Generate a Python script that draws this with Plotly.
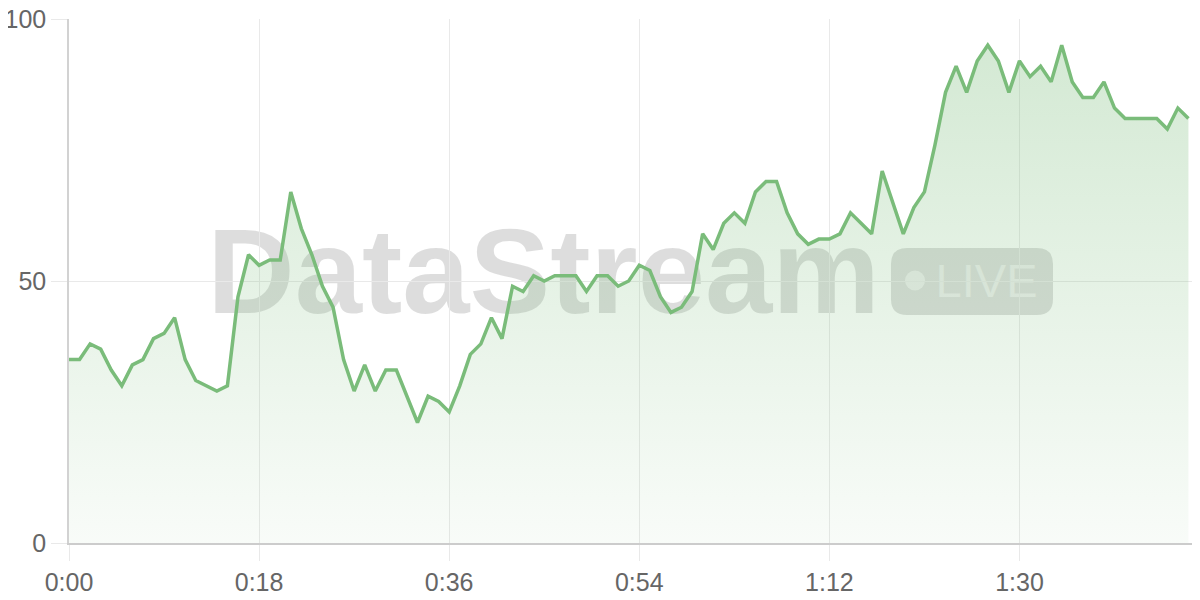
import plotly.graph_objects as go

# --- data -------------------------------------------------------------
seconds = list(range(107))
values = [35, 35, 38, 37, 33, 30, 34, 35, 39, 40,
          43, 35, 31, 30, 29, 30, 47, 55, 53, 54,
          54, 67, 60, 55, 49, 45, 35, 29, 34, 29,
          33, 33, 28, 23, 28, 27, 25, 30, 36, 38,
          43, 39, 49, 48, 51, 50, 51, 51, 51, 48,
          51, 51, 49, 50, 53, 52, 47, 44, 45, 48,
          59, 56, 61, 63, 61, 67, 69, 69, 63, 59,
          57, 58, 58, 59, 63, 61, 59, 71, 65, 59,
          64, 67, 76, 86, 91, 86, 92, 95, 92, 86,
          92, 89, 91, 88, 95, 88, 85, 85, 88, 83,
          81, 81, 81, 81, 79, 83, 81]
x_tickvals = [0, 18, 36, 54, 72, 90]
x_ticktext = ["0:00", "0:18", "0:36", "0:54", "1:12", "1:30"]
y_tickvals = [0, 50, 100]
y_ticktext = ["0", "50", "100"]

LINE = "rgb(122,188,122)"
GRID = "#e9e9e9"
FONT = "Liberation Sans"

fig = go.Figure()
fig.add_trace(go.Scatter(
    x=seconds, y=values, mode="lines",
    line=dict(color=LINE, width=3.5),
    fill="tozeroy",
    fillgradient=dict(type="vertical", start=0, stop=100,
                      colorscale=[[0, "rgba(122,188,122,0.05)"],
                                  [1, "rgba(122,188,122,0.34)"]]),
    hoverinfo="skip", showlegend=False,
))

PW, PH = 1130, 524  # plot area in px
wm = "rgba(0,0,0,0.135)"
# watermark text (drawn between grid and trace)
fig.add_shape(type="rect", xref="paper", yref="paper",
              x0=0.10, x1=0.74, y0=0.441, y1=0.641,
              fillcolor="rgba(0,0,0,0)", line=dict(width=0), layer="between",
              label=dict(text="DataStream", textposition="middle center",
                         font=dict(family="Liberation Sans", size=121, color=wm, weight="bold")))
# LIVE pill (rounded rectangle)
x0, x1, y0, y1 = 0.7274, 0.8708, 0.435, 0.563
rx, ry = 16 / PW, 16 / PH
path = (f"M {x0+rx},{y0} L {x1-rx},{y0} Q {x1},{y0} {x1},{y0+ry} "
        f"L {x1},{y1-ry} Q {x1},{y1} {x1-rx},{y1} L {x0+rx},{y1} "
        f"Q {x0},{y1} {x0},{y1-ry} L {x0},{y0+ry} Q {x0},{y0} {x0+rx},{y0} Z")
fig.add_shape(type="path", xref="paper", yref="paper", path=path,
              fillcolor=wm, line=dict(width=0), layer="between")
cx, cy = 0.7487, 0.501
fig.add_shape(type="circle", xref="paper", yref="paper",
              x0=cx - 10 / PW, x1=cx + 10 / PW, y0=cy - 10 / PH, y1=cy + 10 / PH,
              fillcolor="rgba(255,255,255,0.5)", line=dict(width=0), layer="between")
fig.add_shape(type="rect", xref="paper", yref="paper",
              x0=0.762, x1=0.862, y0=0.458, y1=0.558,
              fillcolor="rgba(0,0,0,0)", line=dict(width=0), layer="between",
              label=dict(text="LIVE", textposition="middle center",
                         font=dict(family="Liberation Sans", size=47,
                                   color="rgba(255,255,255,0.5)")))

# the page body has an 8px margin: compensate so the plot area sits where it should
fig.update_layout(
    width=1192, height=592,
    margin=dict(l=61, r=1, t=11, b=57, autoexpand=False),
    paper_bgcolor="white", plot_bgcolor="white",
    font=dict(family=FONT, size=25, color="#666666"),
    xaxis=dict(range=[0, 107], tickvals=x_tickvals, ticktext=x_ticktext,
               showgrid=True, gridcolor=GRID, gridwidth=1,
               showline=True, linecolor="#cccccc", linewidth=1.5,
               ticks="outside", ticklen=16, tickcolor=GRID,
               automargin=False, ticklabeloverflow="allow",
               zeroline=False, fixedrange=True),
    yaxis=dict(range=[0, 100], tickvals=y_tickvals, ticktext=y_ticktext,
               showgrid=True, gridcolor=GRID, gridwidth=1,
               showline=True, linecolor="#d2d2d2", linewidth=1.5,
               ticks="outside", ticklen=16, tickcolor=GRID,
               automargin=False, ticklabeloverflow="allow",
               zeroline=False, fixedrange=True),
)

fig.write_html("out.html")
